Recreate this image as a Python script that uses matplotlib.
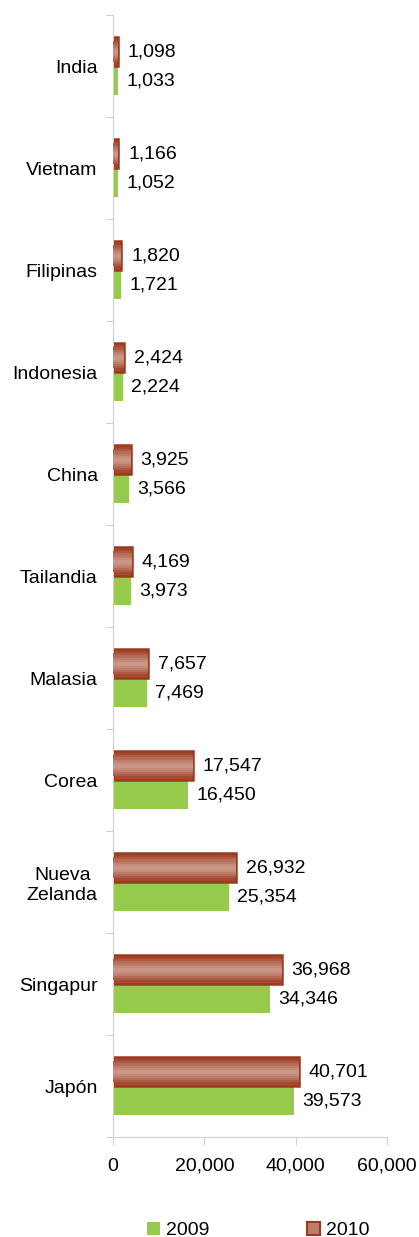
import matplotlib.pyplot as plt
from matplotlib.patches import Patch

plt.rcParams['font.family'] = ['Liberation Sans', 'DejaVu Sans']

# Countries (top to bottom in the picture)
countries = ['India', 'Vietnam', 'Filipinas', 'Indonesia', 'China', 'Tailandia',
             'Malasia', 'Corea', 'Nueva\nZelanda', 'Singapur', 'Japón']
values_2009 = [1033, 1052, 1721, 2224, 3566, 3973, 7469, 16450, 25354, 34346, 39573]
values_2010 = [1098, 1166, 1820, 2424, 3925, 4169, 7657, 17547, 26932, 36968, 40701]
x_ticks = [0, 20000, 40000, 60000]

green = '#96CA4C'
red_dark = '#9A3B1F'
# gradient steps for the 2010 bars, from the edge to the middle
red_steps = ['#A4482F', '#AC5A44', '#B56C58', '#BD7D6B', '#C48B7A', '#C99585']

fig = plt.figure(figsize=(4.19, 12.37), dpi=100)
ax = fig.add_axes([0.2697, 0.0808, 0.654, 0.907])

n = len(countries)
pos = [n - 1 - i for i in range(n)]
h = 0.28
off = 0.142

ax.barh([p - off for p in pos], values_2009, height=h, color=green, zorder=2)
ax.barh([p + off for p in pos], values_2010, height=h, color=red_steps[0],
        edgecolor=red_dark, linewidth=1.8, zorder=2)
for k, c in enumerate(red_steps[1:], start=1):
    ax.barh([p + off for p in pos], values_2010, height=h * (1 - k / len(red_steps)) * 0.85,
            left=0, color=c, linewidth=0, edgecolor='none', zorder=2 + k)

for p, v in zip(pos, values_2009):
    ax.annotate(f'{v:,}', (v, p - off), xytext=(6, 0), textcoords='offset points',
                va='center', ha='left', fontsize=14)
for p, v in zip(pos, values_2010):
    ax.annotate(f'{v:,}', (v, p + off), xytext=(7, 0), textcoords='offset points',
                va='center', ha='left', fontsize=14)

ax.set_xlim(0, 60000)
ax.set_ylim(-0.5, n - 0.5)
ax.set_xticks(x_ticks)
ax.set_xticklabels([f'{t:,}' for t in x_ticks], fontsize=14)

ax.set_yticks([p - 0.5 for p in range(n + 1)], minor=False)
ax.set_yticklabels([])
ax.set_yticks(pos, minor=True)
ax.set_yticklabels(countries, minor=True, fontsize=14, multialignment='center')
ax.tick_params(axis='y', which='minor', length=0, pad=11)
ax.tick_params(axis='y', which='major', length=5, color='#D0D0D0')
ax.tick_params(axis='x', length=6, color='#D0D0D0', pad=9)

for s in ['top', 'right']:
    ax.spines[s].set_visible(False)
for s in ['left', 'bottom']:
    ax.spines[s].set_color('#D0D0D0')

handles = [Patch(facecolor=green, label='2009'),
           Patch(facecolor=red_steps[3], edgecolor=red_dark, linewidth=1.5, label='2010')]
fig.legend(handles=handles, loc='lower center', ncol=2, frameon=False,
           bbox_to_anchor=(0.616, -0.016), fontsize=14, handlelength=0.7,
           handleheight=0.7, handletextpad=0.3, columnspacing=5.0)

fig.savefig('out.png', dpi=100)
